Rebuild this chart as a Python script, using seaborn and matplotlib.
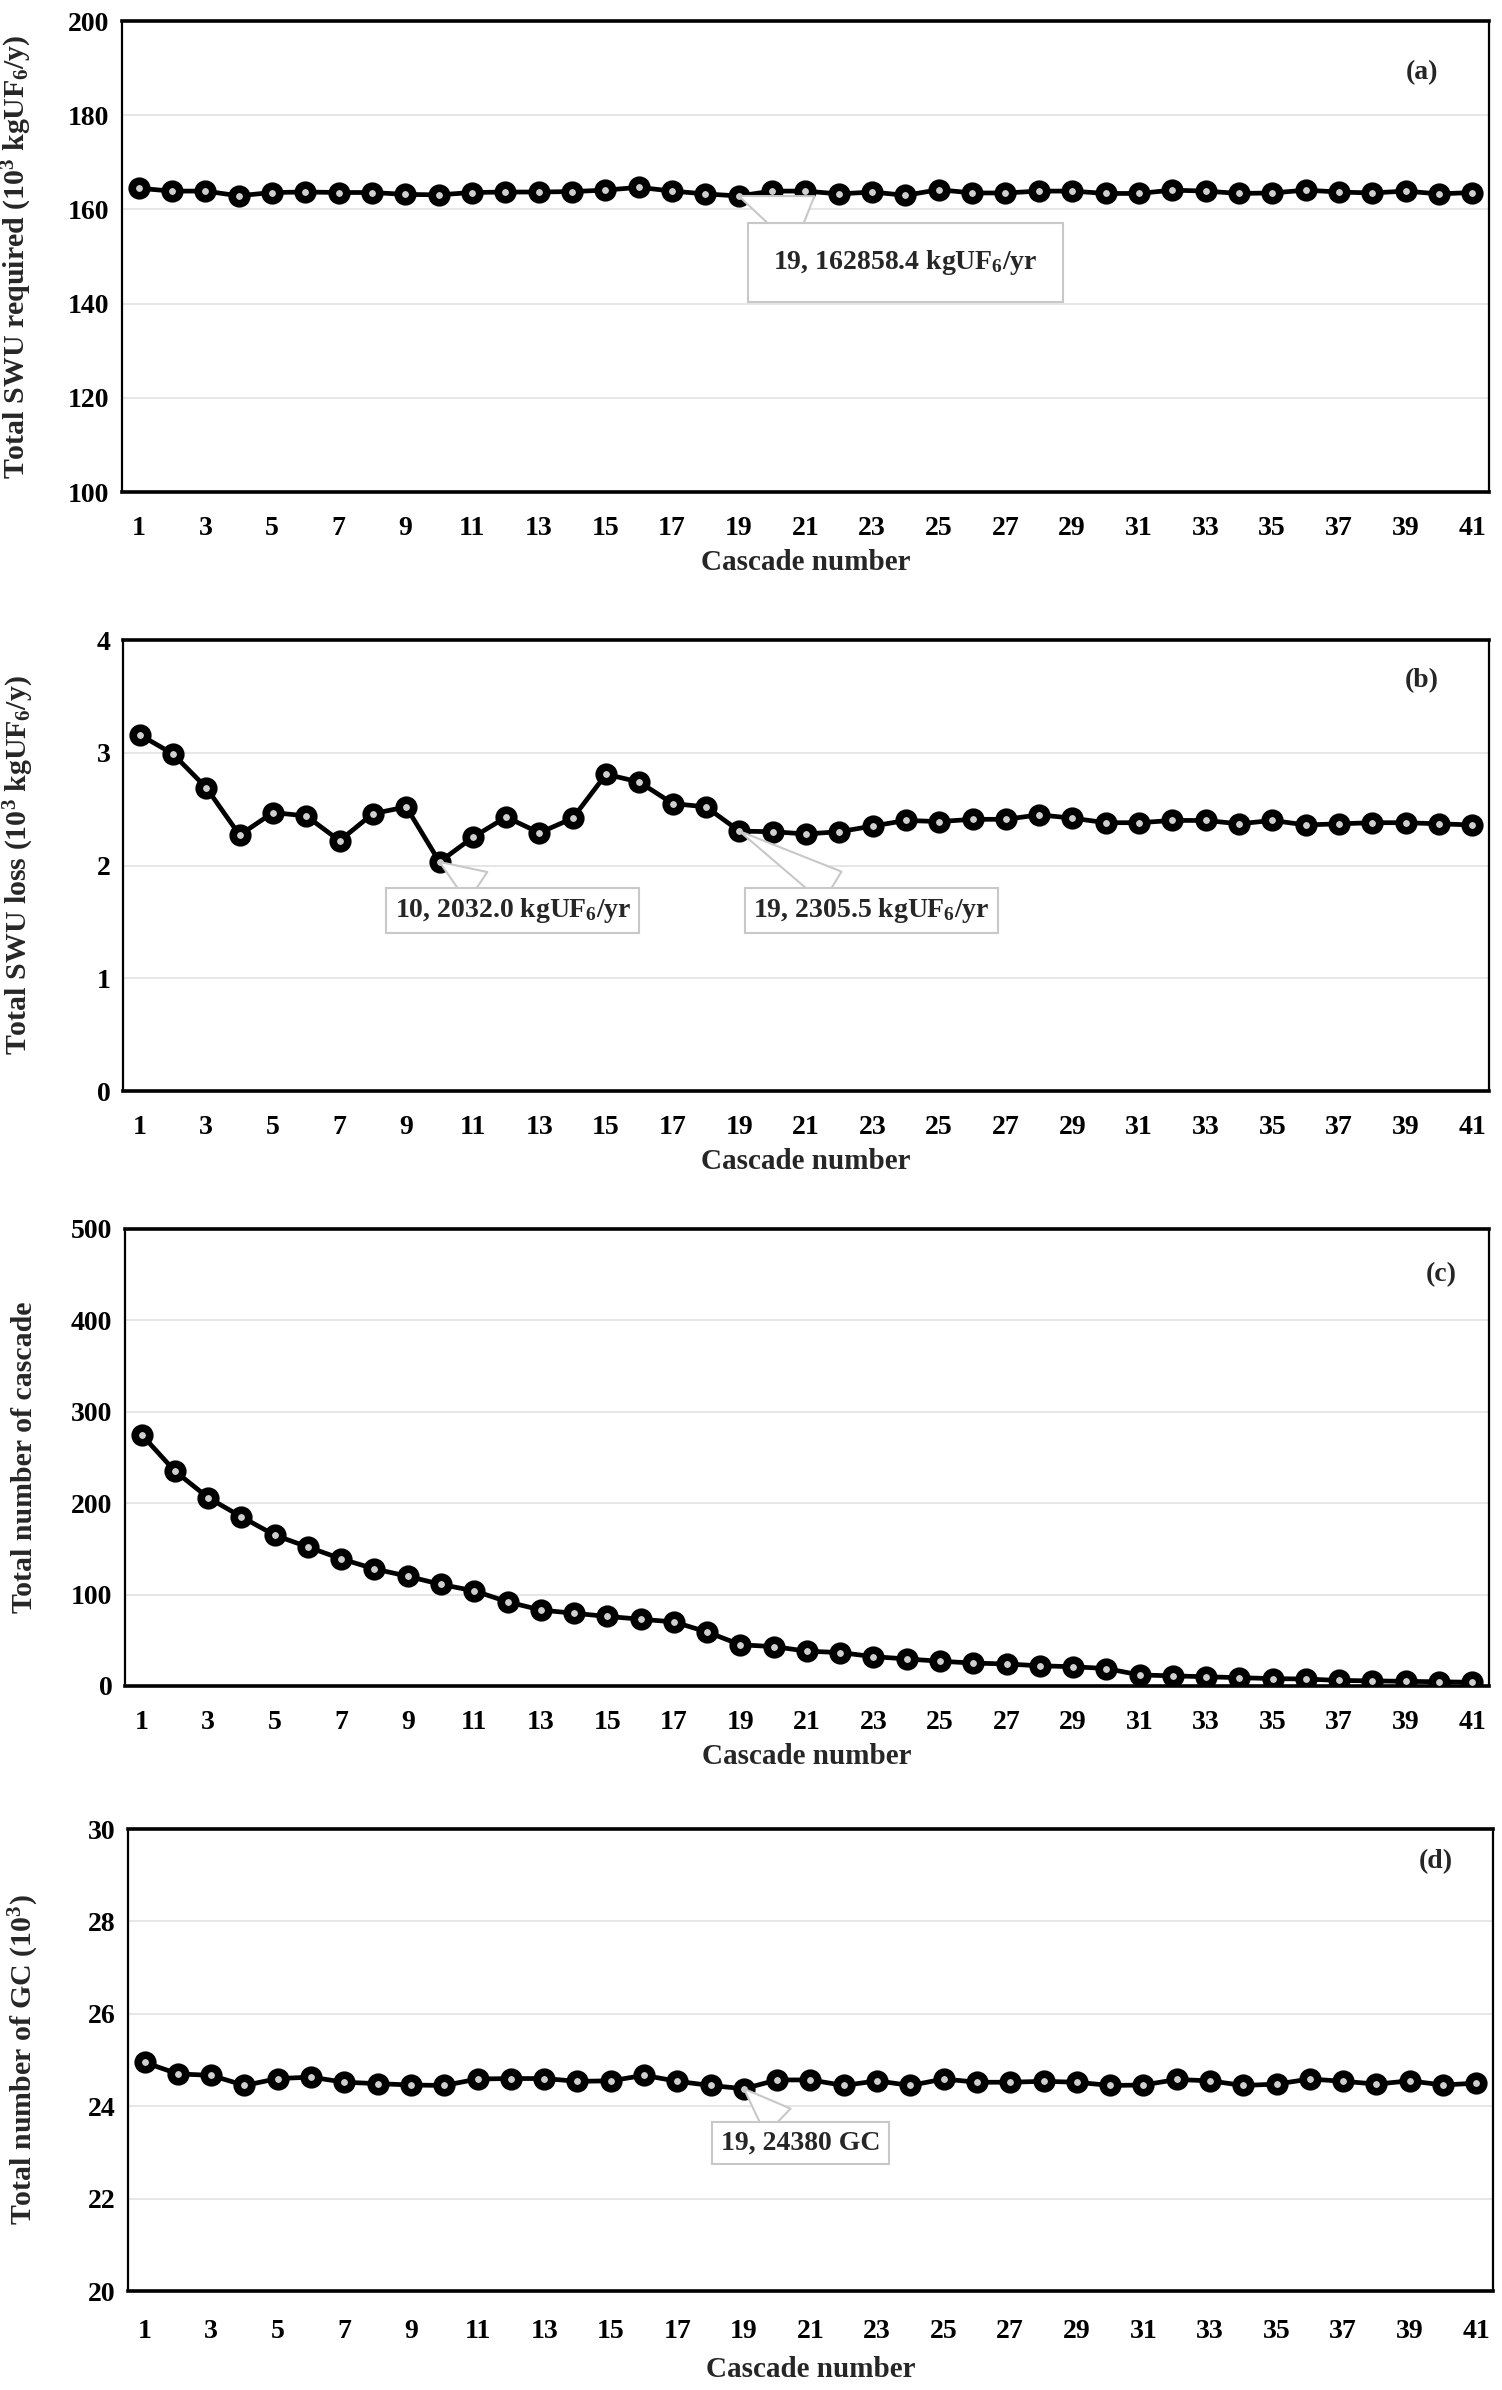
import numpy as np
import pandas as pd
import matplotlib
matplotlib.use("Agg")
import matplotlib.pyplot as plt
import seaborn as sns

# ==========================================
# Data
# ==========================================
cascade = list(range(1, 42))

swu_required = [164.5, 163.9, 163.9, 162.9, 163.6, 163.7, 163.6, 163.6, 163.2, 163.1,
                163.6, 163.7, 163.7, 163.8, 164.1, 164.7, 163.9, 163.3, 162.86, 163.9,
                163.9, 163.3, 163.7, 163.0, 164.2, 163.5, 163.5, 163.9, 163.9, 163.4,
                163.4, 164.1, 163.9, 163.4, 163.5, 164.1, 163.7, 163.5, 163.9, 163.3, 163.6]

swu_loss = [3.16, 2.99, 2.69, 2.27, 2.47, 2.44, 2.22, 2.46, 2.52, 2.032,
            2.25, 2.43, 2.29, 2.42, 2.81, 2.74, 2.55, 2.52, 2.3055, 2.30,
            2.28, 2.30, 2.35, 2.40, 2.39, 2.41, 2.41, 2.45, 2.42, 2.38,
            2.38, 2.40, 2.40, 2.37, 2.40, 2.36, 2.37, 2.38, 2.38, 2.37, 2.36]

n_cascade = [275, 235, 206, 185, 165, 152, 139, 128, 120, 111,
             104, 92, 83, 79.5, 76, 73, 70, 59, 45, 43,
             38, 36.5, 32, 29.5, 27, 25, 24, 22, 21, 19,
             12, 11, 10, 9, 8, 7.5, 6, 5.5, 5, 4.5, 4]

n_gc = [24.95, 24.70, 24.67, 24.45, 24.60, 24.63, 24.52, 24.49, 24.46, 24.45,
        24.59, 24.60, 24.60, 24.54, 24.55, 24.67, 24.54, 24.45, 24.38, 24.57,
        24.57, 24.45, 24.55, 24.45, 24.59, 24.52, 24.52, 24.54, 24.52, 24.45,
        24.46, 24.58, 24.55, 24.45, 24.48, 24.59, 24.54, 24.48, 24.55, 24.46, 24.50]

x_tick_labels = [str(c) if c % 2 == 1 else "" for c in cascade]

panels = [
    dict(y=swu_required, ylabel=r"Total SWU required (10$^3$ kgUF$_6$/y)",
         ylim=(100, 200), yticks=np.arange(100, 201, 20), tag="(a)",
         rect=[0.0812, 0.7941, 0.9101, 0.1971], tagpos=(0.951, 0.89),
         xpad=(12, 6), tail=2.0,
         notes=[(19, r"19, 162858.4 kgUF$_6$/yr", (24.0, 148.8), 0.9)]),
    dict(y=swu_loss, ylabel=r"Total SWU loss (10$^3$ kgUF$_6$/y)",
         ylim=(0, 4), yticks=np.arange(0, 5, 1), tag="(b)",
         rect=[0.0819, 0.5435, 0.9094, 0.1887], tagpos=(0.951, 0.909),
         xpad=(12, 6), tail=1.3,
         notes=[(10, r"10, 2032.0 kgUF$_6$/yr", (12.2, 1.60), 0.3),
                (19, r"19, 2305.5 kgUF$_6$/yr", (22.96, 1.60), 0.3)]),
    dict(y=n_cascade, ylabel="Total number of cascade",
         ylim=(0, 500), yticks=np.arange(0, 501, 100), tag="(c)",
         rect=[0.0832, 0.2946, 0.9081, 0.1912], tagpos=(0.965, 0.899),
         xpad=(12, 6), tail=1.3,
         notes=[]),
    dict(y=n_gc, ylabel=r"Total number of GC (10$^3$)",
         ylim=(20, 30), yticks=np.arange(20, 31, 2), tag="(d)",
         rect=[0.0852, 0.0414, 0.9088, 0.1933], tagpos=(0.958, 0.93),
         xpad=(15, 9), tail=1.3,
         notes=[(19, "19, 24380 GC", (20.7, 23.2), 0.3)]),
]

# ==========================================
# Styling
# ==========================================
sns.set_style("white")
plt.rcParams["font.family"] = ["Liberation Serif", "DejaVu Serif"]
plt.rcParams["font.weight"] = "bold"
plt.rcParams["mathtext.fontset"] = "custom"
plt.rcParams["mathtext.rm"] = "Liberation Serif:bold"
plt.rcParams["mathtext.it"] = "Liberation Serif:italic:bold"
plt.rcParams["mathtext.bf"] = "Liberation Serif:bold"

fig = plt.figure(figsize=(15.02, 23.90), dpi=100)

for p in panels:
    ax = fig.add_axes(p["rect"])
    df = pd.DataFrame({"Cascade": cascade, "Value": p["y"]})
    sns.lineplot(data=df, x="Cascade", y="Value", ax=ax, color="black",
                 linewidth=3.4, marker="o", markersize=10.5,
                 markeredgecolor="black", markeredgewidth=5.5,
                 markerfacecolor="#cfcfcf", zorder=3)

    ax.set_xlim(0.5, 41.5)
    ax.set_ylim(*p["ylim"])
    ax.set_yticks(p["yticks"])
    ax.set_xticks(cascade)
    ax.set_xticklabels(x_tick_labels)
    ax.yaxis.grid(True, color="#e4e4e4", linewidth=1.3)
    ax.xaxis.grid(False)

    ax.tick_params(axis="x", direction="out", length=5, width=1.2,
                   pad=p["xpad"][0], labelsize=20, colors="black")
    ax.tick_params(axis="y", direction="out", length=5, width=1.2,
                   pad=4, labelsize=20, colors="black")
    for lab in ax.get_xticklabels() + ax.get_yticklabels():
        lab.set_fontweight("bold")

    for side in ["top", "bottom"]:
        ax.spines[side].set_linewidth(2.6)
        ax.spines[side].set_color("black")
    for side in ["left", "right"]:
        ax.spines[side].set_linewidth(1.6)
        ax.spines[side].set_color("black")

    ax.set_xlabel("Cascade number", fontsize=21, fontweight="bold",
                  labelpad=p["xpad"][1])
    ax.set_ylabel(p["ylabel"], fontsize=21.5, fontweight="bold")
    ax.yaxis.set_label_coords(-0.064, 0.5)

    ax.text(p["tagpos"][0], p["tagpos"][1], p["tag"], transform=ax.transAxes,
            ha="center", va="center", fontsize=20, fontweight="bold")

    # callout labels
    for idx, label, txy, pad in p["notes"]:
        ax.annotate(label, xy=(idx, p["y"][idx - 1]), xytext=txy,
                    ha="center", va="center", fontsize=20, fontweight="bold",
                    bbox=dict(boxstyle=f"square,pad={pad}", fc="white",
                              ec="#c8c8c8", lw=1.5),
                    arrowprops=dict(arrowstyle=f"wedge,tail_width={p['tail']},shrink_factor=0.5",
                                    fc="white", ec="#c8c8c8", lw=1.5,
                                    shrinkA=0, shrinkB=0),
                    zorder=4)

fig.savefig("out.png", dpi=100)
